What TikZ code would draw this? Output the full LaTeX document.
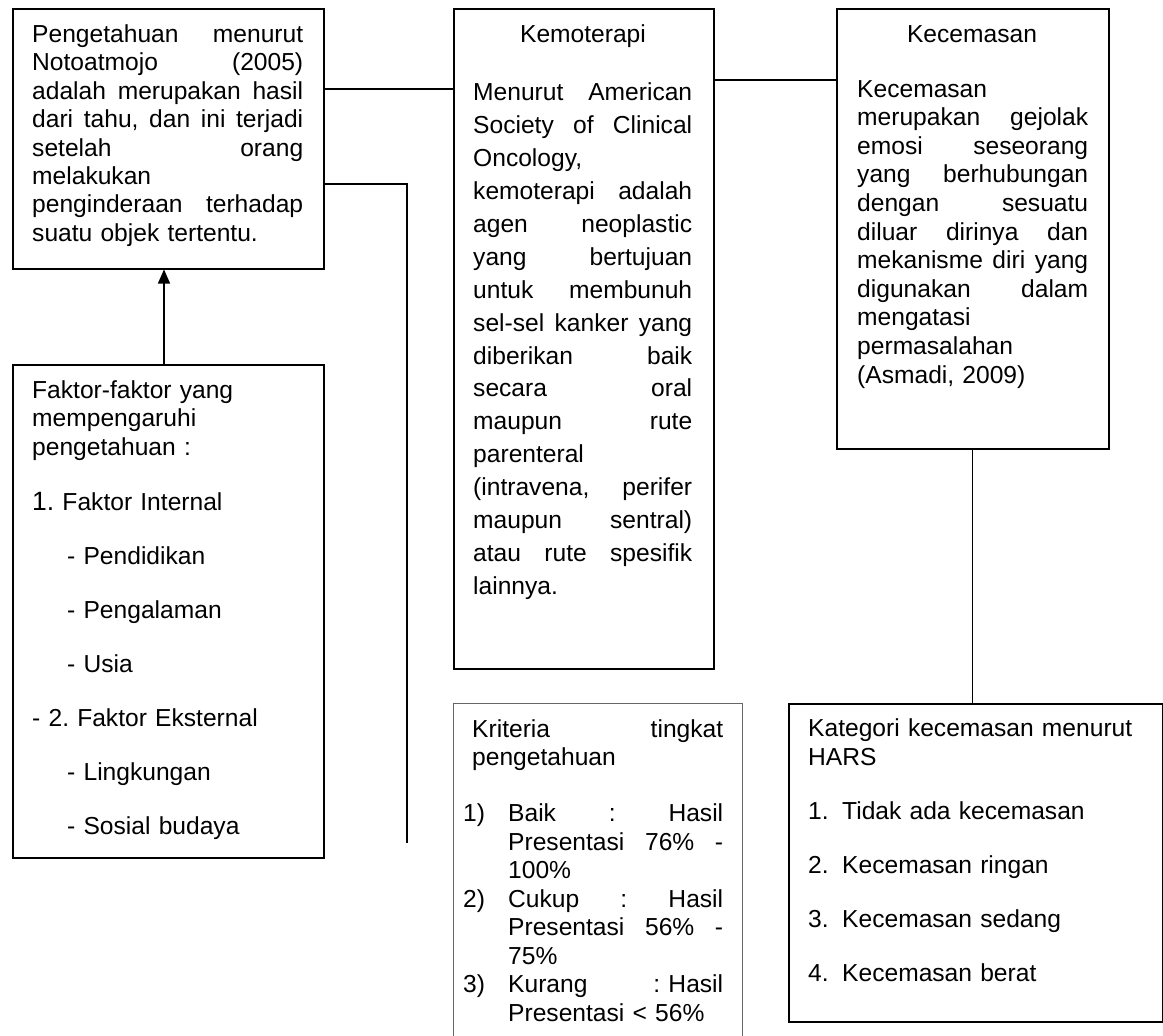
\documentclass[tikz,border=0pt]{standalone}
\usepackage{fontspec}
\setmainfont{Liberation Sans}
\usetikzlibrary{arrows.meta}
\newcommand{\jw}[2]{\makebox[#1][s]{\spaceskip=.278em plus 1fil\relax #2}}
\newcommand{\jl}[1]{\jw{\hsize}{#1}}
\begin{document}
\frenchspacing
\begin{tikzpicture}[x=1pt,y=-1pt,
  box/.style={draw, line width=1.5pt, inner sep=0pt, anchor=north west},
  thinbox/.style={draw=black!60, line width=0.9pt, inner sep=0pt, anchor=north west},
  txt/.style={anchor=base west, inner sep=0pt, align=left, font={\fontsize{24.6pt}{28.5pt}\selectfont\frenchspacing}},
  ttl/.style={anchor=base, inner sep=0pt, font={\fontsize{24.6pt}{28.5pt}\selectfont}},
  conn/.style={line width=1.3pt}]
\useasboundingbox (0,0) rectangle (1163,1036);

% boxes
\node[box, minimum width=311pt, minimum height=260pt] (A) at (12,8) {};
\node[box, minimum width=311pt, minimum height=493pt] (F) at (12,364) {};
\node[box, minimum width=260pt, minimum height=660pt] (kemo) at (453,8) {};
\node[box, minimum width=272pt, minimum height=440pt] (kec) at (836,8) {};
\node[thinbox, minimum width=289pt, minimum height=360pt] (krit) at (453,703) {};
\node[box, minimum width=374pt, minimum height=318pt] (kat) at (788,703) {};

% texts
\node[txt, text width=271pt] (tA) at (32,42) {%
\jl{Pengetahuan menurut}\\
\jl{Notoatmojo (2005)}\\
\jl{adalah merupakan hasil}\\
\jl{dari tahu, dan ini terjadi}\\
\jl{setelah orang}\\
melakukan\\
\jl{penginderaan terhadap}\\
suatu objek tertentu.};

\node[txt, text width=285pt] (tF) at (32,398) {%
Faktor-faktor yang\\
mempengaruhi\\
pengetahuan :\\[26.5pt]
{\fontsize{26.5pt}{28.5pt}\selectfont 1.} Faktor Internal\\[25.5pt]
\hspace*{35pt}- Pendidikan\\[25.5pt]
\hspace*{35pt}- Pengalaman\\[25.5pt]
\hspace*{35pt}- Usia\\[25.5pt]
- 2. Faktor Eksternal\\[25.5pt]
\hspace*{35pt}- Lingkungan\\[25.5pt]
\hspace*{35pt}- Sosial budaya};

\node[ttl] (tkemo) at (583,42) {Kemoterapi};
\node[txt, text width=219pt, font={\fontsize{24.6pt}{33pt}\selectfont}] (tkemob) at (473,100) {%
\jl{Menurut American}\\
\jl{Society of Clinical}\\
Oncology,\\
\jl{kemoterapi adalah}\\
\jl{agen neoplastic}\\
\jl{yang bertujuan}\\
\jl{untuk membunuh}\\
\jl{sel-sel kanker yang}\\
\jl{diberikan baik}\\
\jl{secara oral}\\
\jl{maupun rute}\\
parenteral\\
\jl{(intravena, perifer}\\
\jl{maupun sentral)}\\
\jl{atau rute spesifik}\\
lainnya.};

\node[ttl] (tkec) at (972,42) {Kecemasan};
\node[txt, text width=231pt, font={\fontsize{24.6pt}{28.6pt}\selectfont}] (tkecb) at (857,97) {%
Kecemasan\\
\jl{merupakan gejolak}\\
\jl{emosi seseorang}\\
\jl{yang berhubungan}\\
\jl{dengan sesuatu}\\
\jl{diluar dirinya dan}\\
\jl{mekanisme diri yang}\\
\jl{digunakan dalam}\\
mengatasi\\
permasalahan\\
(Asmadi, 2009)};

\node[txt, text width=262pt] (tkrit) at (463,737) {%
\hspace*{9pt}\jw{251pt}{Kriteria tingkat}\\
\hspace*{9pt}pengetahuan\\[27.7pt]
\makebox[45pt][l]{1)}\jw{215pt}{Baik : Hasil}\\
\hspace*{45pt}\jw{215pt}{Presentasi 76\% -}\\
\hspace*{45pt}100\%\\
\makebox[45pt][l]{2)}\jw{215pt}{Cukup : Hasil}\\
\hspace*{45pt}\jw{215pt}{Presentasi 56\% -}\\
\hspace*{45pt}75\%\\
\makebox[45pt][l]{3)}\makebox[215pt][l]{Kurang\hfill: Hasil}\\
\hspace*{45pt}Presentasi < 56\%};

\node[txt, text width=340pt, font={\fontsize{24.6pt}{29pt}\selectfont}] (tkat) at (808,736) {%
Kategori kecemasan menurut\\
HARS\\[25pt]
\makebox[34pt][l]{1.}Tidak ada kecemasan\\[25pt]
\makebox[34pt][l]{2.}Kecemasan ringan\\[25pt]
\makebox[34pt][l]{3.}Kecemasan sedang\\[25pt]
\makebox[34pt][l]{4.}Kecemasan berat};

% connectors
\coordinate (y1) at (0,89);
\coordinate (y2) at (0,184);
\coordinate (y3) at (0,80);
\coordinate (ax) at (164,0);
\coordinate (e2) at (407,843);
\draw[conn] (A.east |- y1) -- (kemo.west |- y1);
\draw[conn] (A.east |- y2) -| (e2);
\draw[conn] (kemo.east |- y3) -- (kec.west |- y3);
\draw[conn, -{Triangle[length=14pt,width=12pt]}] (F.north -| ax) -- (A.south -| ax);
\draw[conn] (kec.south) -- (kec.south |- kat.north);
\end{tikzpicture}
\end{document}
